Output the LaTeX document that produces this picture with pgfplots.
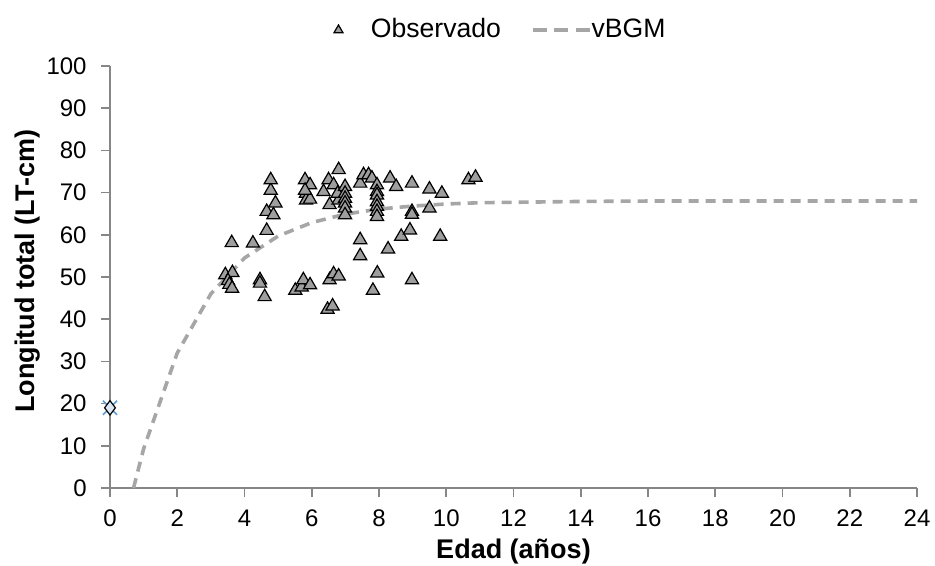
\documentclass[border=0pt]{standalone}
\usepackage{pgfplots}
\pgfplotsset{compat=1.18}
\usepackage{fontspec}
\setmainfont{Liberation Sans}
\definecolor{axisgray}{HTML}{868686}
\definecolor{markgray}{HTML}{9E9E9E}
\definecolor{curvegray}{HTML}{A6A6A6}
\definecolor{crossblue}{HTML}{5B9BD5}
\definecolor{diamondfill}{HTML}{DCE6F2}
\pgfplotsset{
    tri legend/.style={legend image code/.code={
        \path (0pt,0pt) (28.5pt,0pt);
        \draw[mark size=2.6pt, ##1] plot coordinates {(12.5pt,0pt)};}},
    dash legend/.style={legend image code/.code={
        \draw[##1, dash pattern=on 7pt off 3.75pt] (0pt,0pt) -- (28.5pt,0pt);}},
}
\begin{document}
\fontsize{12}{14}\selectfont
\begin{tikzpicture}
\begin{axis}[
    name=ax,
    scale only axis,
    width=403.5pt, height=211pt,
    xmin=0, xmax=24, ymin=0, ymax=100,
    xtick={0,2,...,24}, ytick={0,10,...,100},
    axis lines*=left,
    axis line style={axisgray, line width=0.8pt},
    tick style={axisgray, line width=0.8pt},
    tick align=outside,
    major tick length=4.5pt,
    xtick pos=bottom, ytick pos=left,
    /pgf/number format/assume math mode=true,
    ticklabel style={font=\fontsize{12}{14}\selectfont, black},
    yticklabel style={xshift=-3pt},
    xticklabel style={yshift=-2pt, text height=8.6pt, text depth=0pt},
    xlabel={\textbf{Edad (años)}},
    ylabel={\textbf{Longitud total (LT-cm)}},
    label style={font=\fontsize{13.5}{16}\selectfont},
    ylabel style={at={(ticklabel cs:0.514)}},
    ylabel shift=-5pt,
    xlabel shift=-2pt,
    legend style={draw=none, fill=none, at={(0.47,1)}, anchor=south,
        yshift=8pt, legend columns=2,
        nodes={inner xsep=0pt},
        /tikz/every even column/.append style={column sep=15pt},
        font=\fontsize{13.3}{15}\selectfont},
    legend cell align=left,
    clip=false,
]
\addplot[only marks, mark=triangle*, mark size=3.8pt,
    mark options={fill=markgray, draw=black, line width=0.6pt}, tri legend]
coordinates {
(3.43,50.5)(3.64,51.0)(3.51,49.1)(3.55,48.2)(3.63,47.3)(3.62,58.1)
(4.25,58.0)(4.46,49.3)(4.46,48.5)(4.60,45.3)(4.66,61.0)(4.66,65.5)
(4.86,64.7)(4.92,67.5)(4.78,70.5)(4.78,73.0)
(5.51,46.8)(5.70,47.6)(5.75,49.3)(5.95,48.1)
(5.80,73.0)(5.95,71.8)(5.83,69.8)(5.83,68.2)(5.95,68.4)(5.80,70.5)
(6.35,70.2)(6.50,73.0)(6.65,71.8)(6.80,75.4)(6.53,67.1)(6.80,68.2)(6.77,69.8)
(6.99,71.4)(6.99,69.8)(6.99,68.6)(6.99,67.5)(6.99,66.3)(6.99,64.7)
(6.53,49.3)(6.65,50.7)(6.80,50.2)(6.47,42.3)(6.62,43.1)
(7.44,72.2)(7.54,74.2)(7.69,74.2)(7.79,73.4)(7.44,58.8)(7.44,55.0)
(7.94,71.8)(7.94,70.2)(7.94,69.4)(7.94,67.8)(7.94,66.7)(7.94,65.5)(7.94,64.3)
(7.95,50.9)(7.82,46.8)
(8.33,73.4)(8.51,71.4)(8.27,56.6)(8.66,59.6)(8.92,61.1)(8.98,49.3)
(8.98,72.2)(8.98,65.5)(8.98,64.8)(9.50,70.8)(9.50,66.3)(9.87,69.8)(9.82,59.6)
(10.66,73.0)(10.87,73.6)
};
\addlegendentry{Observado}
\addplot[curvegray, line width=1.8pt, dash pattern=on 5pt off 3.5pt, no marks,
    dash legend]
coordinates {
(0.7,0)(1,9.3)(2,32.0)(3,46.0)(4,54.5)(5,59.7)(6,62.9)(7,64.9)(8,66.1)
(9,66.8)(10,67.3)(11,67.6)(12,67.7)(14,67.9)(16,68.0)(18,68.0)(20,68.0)
(22,68.0)(24,68.0)
};
\addlegendentry{vBGM}
\addplot[forget plot, only marks, mark=x, mark size=5pt,
    mark options={crossblue, line width=0.8pt}] coordinates {(0,19)};
\addplot[forget plot, only marks, mark=diamond*, mark size=3.6pt,
    mark options={fill=diamondfill, draw=black, line width=0.6pt}] coordinates {(0,19)};
\end{axis}
\pgfresetboundingbox
\path (ax.south west) ++(-55pt,-39pt) coordinate (bl);
\path (ax.north east) ++(9pt,33pt) coordinate (tr);
\path (bl) rectangle (tr);
\end{tikzpicture}
\end{document}
